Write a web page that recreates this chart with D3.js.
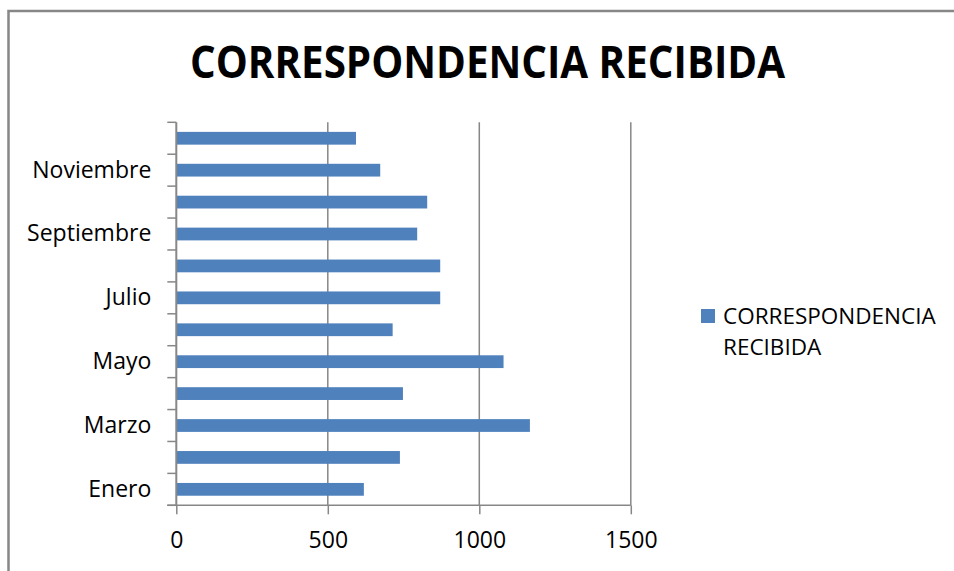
<!DOCTYPE html>
<html>
<head>
<meta charset="utf-8">
<script src="https://cdn.jsdelivr.net/npm/d3@7"></script>
<style>
  html, body { margin: 0; padding: 0; background: #fff; }
  svg { display: block; }
  text { font-family: "Open Sans", "Liberation Sans", Arial, sans-serif; }
</style>
</head>
<body>
<svg id="chart" width="954" height="571"></svg>
<script>
const title = "CORRESPONDENCIA RECIBIDA";
const seriesName = "CORRESPONDENCIA RECIBIDA";
const legendLines = ["CORRESPONDENCIA", "RECIBIDA"];
const months = ["Enero", "Febrero", "Marzo", "Abril", "Mayo", "Junio",
                "Julio", "Agosto", "Septiembre", "Octubre", "Noviembre", "Diciembre"];
const values = [619, 738, 1167, 748, 1080, 714, 871, 871, 795, 828, 673, 593];
const shownLabels = ["Enero", "Marzo", "Mayo", "Julio", "Septiembre", "Noviembre"];
const xTicks = [0, 500, 1000, 1500];

const gray = "#878787";
const barColor = "#4F81BD";
const font = "Open Sans, Liberation Sans, Arial, sans-serif";

const svg = d3.select("#chart");

// chart border
svg.append("rect")
  .attr("x", 8.5).attr("y", 11).attr("width", 960).attr("height", 580)
  .attr("fill", "none").attr("stroke", gray).attr("stroke-width", 2.5);

// title
svg.append("text")
  .attr("x", 190).attr("y", 78)
  .attr("font-size", 44).attr("font-weight", "bold").attr("fill", "#000")
  .attr("textLength", 595).attr("lengthAdjust", "spacingAndGlyphs")
  .text(title);

const plot = { left: 176.3, right: 630.8, top: 122.3, bottom: 505.3 };

const x = d3.scaleLinear().domain([0, 1500]).range([plot.left, plot.right]);
const y = d3.scaleBand().domain(months).range([plot.bottom, plot.top])
  .paddingInner(0.6).paddingOuter(0.3);
const yCat = d3.scaleBand().domain(months).range([plot.bottom, plot.top]);

// gridlines
svg.append("g").selectAll("line")
  .data(xTicks.filter(d => d > 0))
  .join("line")
  .attr("x1", d => x(d)).attr("x2", d => x(d))
  .attr("y1", plot.top).attr("y2", plot.bottom)
  .attr("stroke", gray).attr("stroke-width", 1.5);

// bars
svg.append("g").selectAll("rect")
  .data(months)
  .join("rect")
  .attr("x", x(0))
  .attr("y", d => y(d))
  .attr("width", (d, i) => x(values[i]) - x(0))
  .attr("height", y.bandwidth())
  .attr("fill", barColor);

// x axis
const xAxis = svg.append("g")
  .attr("transform", `translate(0,${plot.bottom})`)
  .call(d3.axisBottom(x).tickValues(xTicks).tickFormat(d3.format("d"))
    .tickSize(9).tickSizeOuter(0).tickPadding(17));
xAxis.select(".domain").remove();
xAxis.selectAll(".tick line").attr("stroke", gray).attr("stroke-width", 1.5);
xAxis.selectAll(".tick text").attr("font-size", 23).attr("fill", "#000")
  .attr("font-family", font);
svg.append("line")
  .attr("x1", plot.left - 9).attr("x2", plot.right)
  .attr("y1", plot.bottom).attr("y2", plot.bottom)
  .attr("stroke", gray).attr("stroke-width", 1.5);

// y axis line
svg.append("line")
  .attr("x1", plot.left).attr("x2", plot.left)
  .attr("y1", plot.top).attr("y2", plot.bottom)
  .attr("stroke", gray).attr("stroke-width", 2);

// category boundary ticks
const boundaries = months.map(m => yCat(m)).concat([plot.bottom]);
svg.append("g").selectAll("line")
  .data(boundaries)
  .join("line")
  .attr("x1", plot.left - 9).attr("x2", plot.left)
  .attr("y1", d => d).attr("y2", d => d)
  .attr("stroke", gray).attr("stroke-width", 1.5);

// category labels
const yAxis = svg.append("g")
  .attr("transform", `translate(${plot.left},0)`)
  .call(d3.axisLeft(y).tickValues(shownLabels).tickSize(0).tickPadding(25));
yAxis.select(".domain").remove();
yAxis.selectAll(".tick text").attr("font-size", 23).attr("fill", "#000")
  .attr("font-family", font);

// legend
const lg = svg.append("g");
lg.append("rect").attr("x", 701).attr("y", 309).attr("width", 14).attr("height", 14)
  .attr("fill", barColor);
lg.selectAll("text").data(legendLines).join("text")
  .attr("x", 723).attr("y", (d, i) => 324 + i * 30.5)
  .attr("font-size", 22.5).attr("fill", "#000")
  .text(d => d);
</script>
</body>
</html>
